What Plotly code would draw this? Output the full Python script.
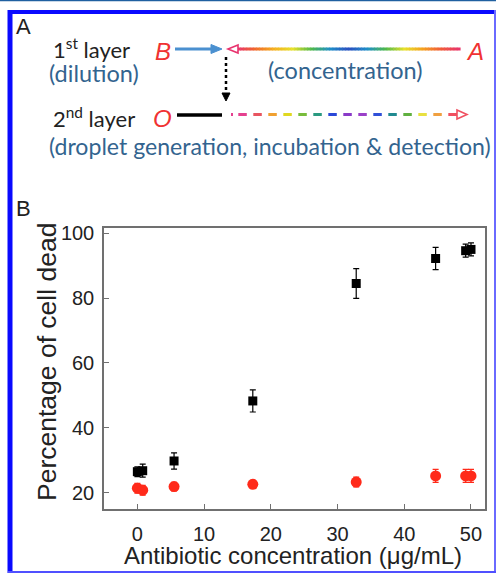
import plotly.graph_objects as go

W, H = 496, 574

# ---------------- data (panel B) ----------------
conc_black = [0, 0.8, 5.5, 17.3, 32.8, 44.7, 49.2, 50.0]
dead_black = [26.5, 26.8, 29.8, 48.3, 84.5, 92.2, 94.6, 95.0]
err_black = [1.5, 2.0, 2.5, 3.4, 4.6, 3.4, 2.0, 2.0]

conc_red = [0, 0.8, 5.5, 17.3, 32.8, 44.7, 49.2, 50.0]
dead_red = [21.4, 20.8, 21.9, 22.6, 23.3, 25.2, 25.2, 25.2]
err_red = [1.5, 1.5, 1.3, 1.2, 1.5, 2.0, 2.0, 2.0]

x_ticks = [0, 10, 20, 30, 40, 50]
y_ticks = [20, 40, 60, 80, 100]

# ---------------- diagram colours (panel A) ----------------
solid_stops = ["#e8336e", "#f06a2a", "#f5b020", "#e6e02a", "#4fb84a",
               "#1e8fc8", "#2a4fc0", "#1e8fc8", "#4fb84a", "#e6e02a",
               "#f5a020", "#f05a3a", "#e8336e"]
dash_colors = ["#e5408f", "#e85560", "#f0a030", "#e0d820", "#78bc3c",
               "#2a9a80", "#2a48d8", "#8a3ac8", "#9a40c8", "#3050d8",
               "#208a90", "#60b040", "#e8e040", "#f0a040"]


def fx(p):
    return p / W


def fy(p):
    return 1 - p / H


def hex2rgb(h):
    h = h.lstrip("#")
    return tuple(int(h[i:i + 2], 16) for i in (0, 2, 4))


def lerp_color(stops, t):
    n = len(stops) - 1
    pos = t * n
    i = min(int(pos), n - 1)
    f = pos - i
    a, b = hex2rgb(stops[i]), hex2rgb(stops[i + 1])
    c = tuple(int(round(a[k] + (b[k] - a[k]) * f)) for k in range(3))
    return "rgb(%d,%d,%d)" % c


fig = go.Figure()

fig.add_trace(go.Scatter(
    x=conc_black, y=dead_black, mode="markers",
    marker=dict(symbol="square", size=9, color="black"),
    error_y=dict(type="data", array=err_black, color="black", thickness=1.2, width=3),
    showlegend=False))
fig.add_trace(go.Scatter(
    x=conc_red, y=dead_red, mode="markers",
    marker=dict(symbol="circle", size=11, color="#ff2a1a"),
    error_y=dict(type="data", array=err_red, color="#ff2a1a", thickness=1.2, width=3),
    showlegend=False))

axis_common = dict(showline=True, linecolor="#707070", linewidth=1.5, mirror=True,
                   ticks="inside", ticklen=5, tickcolor="#707070", tickwidth=1.2,
                   showgrid=False, zeroline=False, automargin=False,
                   tickfont=dict(family="Liberation Sans", size=20, color="#222"))

fig.update_layout(
    width=W, height=H, template="none",
    margin=dict(l=0, r=0, t=0, b=0, pad=0),
    paper_bgcolor="white", plot_bgcolor="white",
    xaxis=dict(domain=[fx(104), fx(485)], range=[-5, 52.1], tickvals=x_ticks,
               ticklabelstandoff=6, **axis_common),
    yaxis=dict(domain=[fy(509), fy(228)], range=[15, 101.6], tickvals=y_ticks,
               ticklabelstandoff=4, **axis_common),
)

shapes = []


def line(x0, y0, x1, y1, color, width, dash=None):
    d = dict(type="line", xref="paper", yref="paper",
             x0=fx(x0), y0=fy(y0), x1=fx(x1), y1=fy(y1),
             line=dict(color=color, width=width))
    if dash:
        d["line"]["dash"] = dash
    shapes.append(d)


def poly(pts, line_color, fill, width=1.5):
    path = "M " + " L ".join("%f,%f" % (fx(a), fy(b)) for a, b in pts) + " Z"
    shapes.append(dict(type="path", xref="paper", yref="paper", path=path,
                       line=dict(color=line_color, width=width), fillcolor=fill))


# frame
line(0, 0.6, 496, 0.6, "#2060a0", 1.5)
line(10, 10, 10, 573, "#0a0aff", 5)
line(8, 12, 496, 12, "#0a0aff", 4)
line(495, 10, 495, 573, "#6a6aff", 2)
line(8, 572, 496, 572, "#5050ff", 2)

# 1st layer: blue arrow from B
line(175, 49, 212, 49, "#4a90d0", 2.8)
poly([(211, 44.5), (222, 49), (211, 53.5)], "#4a90d0", "#4a90d0", 1)

# rainbow solid arrow from A (pointing left)
x_start, x_end = 237, 460
N = 70
for i in range(N):
    a = x_start + (x_end - x_start) * i / N
    b = x_start + (x_end - x_start) * (i + 1) / N + 0.6
    line(a, 49, b, 49, lerp_color(solid_stops, (i + 0.5) / N), 3)
poly([(238, 45), (228, 49), (238, 53)], "#e8336e", "white", 1.6)

# dotted vertical arrow
line(226, 57, 226, 93, "black", 2.5, "dot")
poly([(222, 93), (230, 93), (226, 101)], "black", "black", 1)

# 2nd layer: black line from O
line(177, 115, 222, 115, "black", 3.5)

# dashed rainbow arrow
line(231, 114.5, 233, 114.5, "#e5408f", 3)
for k, c in enumerate(dash_colors):
    x0 = 238.3 + 15 * k
    line(x0, 114.5, x0 + 8.5, 114.5, c, 3)
line(448.3, 114.5, 458, 114.5, "#f05060", 3)
poly([(457, 110), (467, 114.5), (457, 119)], "#f05060", "white", 1.6)

fig.update_layout(shapes=shapes)

ann = []


def text(s, x, y, size, color, family, xanchor="center", angle=0):
    ann.append(dict(text=s, x=fx(x), y=fy(y), xref="paper", yref="paper",
                    showarrow=False, xanchor=xanchor, yanchor="middle",
                    textangle=angle,
                    font=dict(size=size, color=color, family=family)))


ARIAL = "Liberation Sans"
CAL = "Lato"
BLUE_T = "#33648f"
RED_T = "#f03232"

text("A", 14, 27, 22, "#222", ARIAL, "left")
text("B", 14, 208, 22, "#222", ARIAL, "left")

text("1<sup>st</sup> layer", 51, 49, 22, "#222", CAL, "left")
text("(dilution)", 47, 73, 23.5, BLUE_T, CAL, "left")
text("(concentration)", 266, 70, 23.5, BLUE_T, CAL, "left")
text("2<sup>nd</sup> layer", 51, 118, 22, "#222", CAL, "left")
text("(droplet generation, incubation &amp; detection)", 47, 146, 23.1, BLUE_T, CAL, "left")

text("<i>B</i>", 163, 51, 24, RED_T, ARIAL)
text("<i>A</i>", 475, 51, 24, RED_T, ARIAL)
text("<i>O</i>", 162, 119, 24, RED_T, ARIAL)

text("Percentage of cell dead", 47, 362, 26.5, "#222", ARIAL, angle=-90)
text("Antibiotic concentration (μg/mL)", 293, 555, 24, "#222", ARIAL)

fig.update_layout(annotations=ann)

fig.write_html("out.html", config={"displayModeBar": False},
               post_script="document.body.style.margin='0';document.body.style.padding='0';")
